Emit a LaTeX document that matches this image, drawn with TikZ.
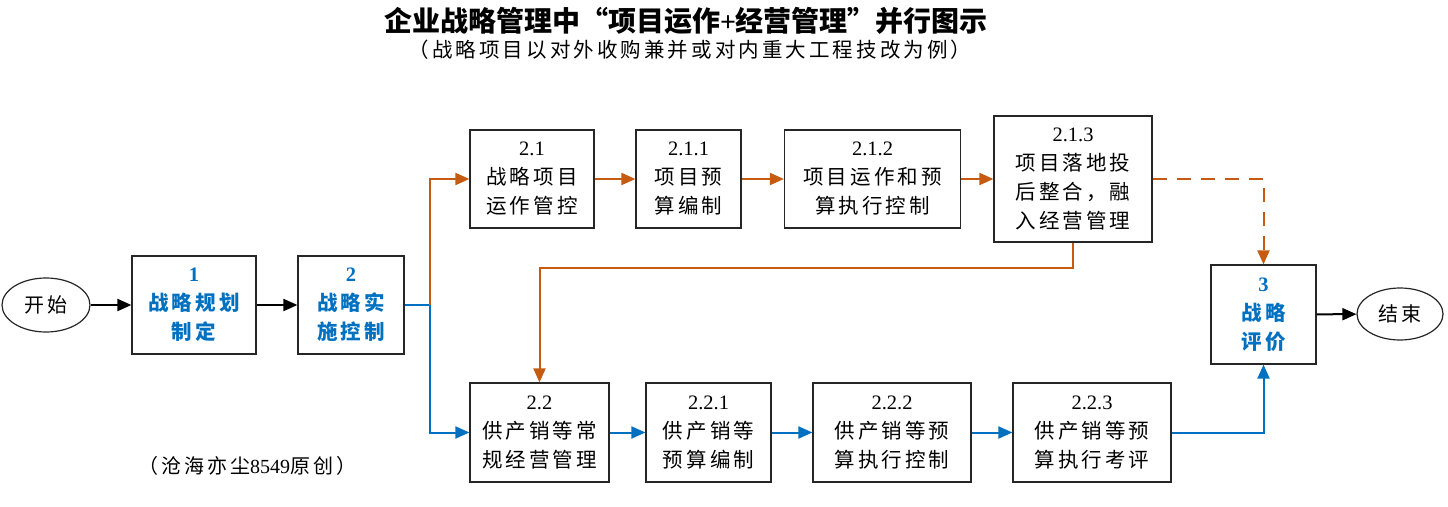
\documentclass[tikz,border=0pt]{standalone}
\usepackage{fontspec}
\setmainfont{Liberation Serif}
\newfontfamily\cjk[LetterSpace=15]{Noto Sans CJK SC}
\newfontfamily\cjkplain{Noto Sans CJK SC}
\usetikzlibrary{arrows.meta,shapes.geometric}
\definecolor{orng}{HTML}{C55A11}
\definecolor{blu}{HTML}{0070C0}
\tikzset{
  box/.style={draw=black!85, line width=1.2pt, minimum height=98, inner sep=0pt, align=center,
    font=\fontsize{20.5}{29}\selectfont},
  keybox/.style={box, text=blu, font=\fontsize{20.5}{29}\selectfont\bfseries},
  terminal/.style={draw=black!85, line width=1.2pt, ellipse, inner sep=0pt,
    font=\fontsize{20}{24}\selectfont},
  tip/.style={-{Triangle[length=14pt,width=12pt]}},
  conn/.style={tip, line width=2pt},
  oconn/.style={conn, draw=orng, color=orng},
  bconn/.style={conn, draw=blu, color=blu},
  kconn/.style={conn, draw=black, color=black},
}
\begin{document}
\begin{tikzpicture}[x=1pt,y=-1pt]
\useasboundingbox (0,0) rectangle (1448,506);
% titles
\node[font=\fontsize{28}{30}\selectfont] (title) at (686,21)
  {\cjkplain\bfseries 企业战略管理中“项目运作{\rmfamily\bfseries +}经营管理”并行图示};
\node[font=\fontsize{20.5}{24}\selectfont] (subtitle) at (690,50)
  {\cjk （战略项目以对外收购兼并或对内重大工程技改为例）};
\node[font=\fontsize{20}{24}\selectfont] (note) at (247,466)
  {{\cjk （沧海亦尘}8549{\cjk 原创）}};
% nodes
\node[terminal, minimum width=88, minimum height=54] (start) at (46,305) {\cjk 开始};
\node[keybox, minimum width=124] (b1) at (194,305) {1\\{\cjk 战略规划}\\{\cjk 制定}};
\node[keybox, minimum width=106] (b2) at (351,305) {2\\{\cjk 战略实}\\{\cjk 施控制}};
\node[box, minimum width=124] (b21) at (532,179) {2.1\\{\cjk 战略项目}\\{\cjk 运作管控}};
\node[box, minimum width=105] (b211) at (688.5,179) {2.1.1\\{\cjk 项目预}\\{\cjk 算编制}};
\node[box, minimum width=176] (b212) at (872.5,179) {2.1.2\\{\cjk 项目运作和预}\\{\cjk 算执行控制}};
\node[box, minimum width=158, minimum height=126] (b213) at (1073,179) {2.1.3\\{\cjk 项目落地投}\\{\cjk 后整合，融}\\{\cjk 入经营管理}};
\node[keybox, minimum width=105, minimum height=99] (b3) at (1263.5,314.5) {3\\{\cjk 战略}\\{\cjk 评价}};
\node[terminal, minimum width=86, minimum height=52] (end) at (1400,314) {\cjk 结束};
\node[box, minimum width=139, minimum height=99] (b22) at (539.5,432.5) {2.2\\{\cjk 供产销等常}\\{\cjk 规经营管理}};
\node[box, minimum width=125, minimum height=99] (b221) at (708.5,432.5) {2.2.1\\{\cjk 供产销等}\\{\cjk 预算编制}};
\node[box, minimum width=158, minimum height=99] (b222) at (892,432.5) {2.2.2\\{\cjk 供产销等预}\\{\cjk 算执行控制}};
\node[box, minimum width=158, minimum height=99] (b223) at (1092,432.5) {2.2.3\\{\cjk 供产销等预}\\{\cjk 算执行考评}};
\coordinate (split) at (430,305);
% connectors
\draw[kconn] (start) -- (b1);
\draw[kconn] (b1) -- (b2);
\draw[kconn] (b3) -- (end);
\draw[bconn] (b2.east) -- (split) |- (b22.west);
\draw[oconn] (split) |- (b21.west);
\draw[oconn] (b21) -- (b211);
\draw[oconn] (b211) -- (b212);
\draw[oconn] (b212) -- (b213);
\draw[oconn] (b213.south) -- ++(0,25) -| (b22.north);
\draw[oconn, dash pattern=on 14pt off 10pt] (b213.east) -| (b3.north);
\draw[bconn] (b22) -- (b221);
\draw[bconn] (b221) -- (b222);
\draw[bconn] (b222) -- (b223);
\draw[bconn] (b223.east) -| (b3.south);
\end{tikzpicture}
\end{document}
